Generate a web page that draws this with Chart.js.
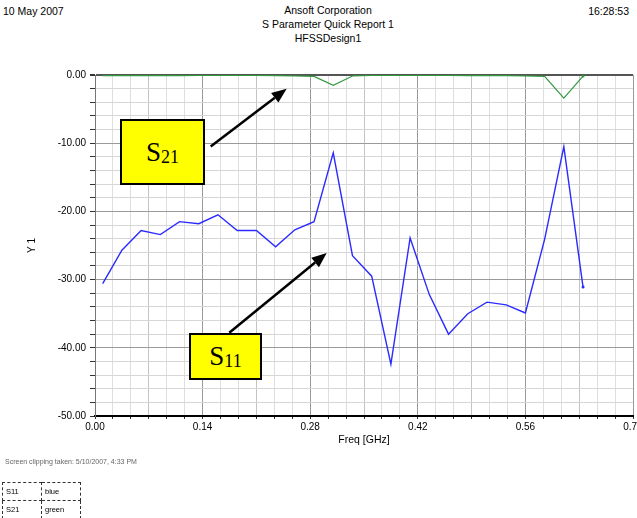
<!DOCTYPE html>
<html>
<head>
<meta charset="utf-8">
<script src="https://cdn.jsdelivr.net/npm/chart.js@4/dist/chart.umd.min.js"></script>
<style>
  html, body { margin: 0; padding: 0; background: #fff; overflow: hidden; }
  body { width: 637px; height: 518px; position: relative; font-family: "Liberation Sans", Arial, sans-serif; }
  #wrap { position: absolute; left: 0; top: 0; width: 660px; height: 518px; }
  .hdr { position: absolute; font-size: 10.5px; color: #000; white-space: nowrap; line-height: 14px; }
  .box { position: absolute; background: #ffff00; border: 2px solid #000; box-sizing: border-box;
         display: flex; align-items: center; justify-content: center;
         font-family: "Liberation Serif", "Times New Roman", serif; font-size: 27px; color: #000; }
  .box span { font-size: 18px; position: relative; top: 5px; }
  .note { position: absolute; left: 5px; top: 458px; font-size: 7px; color: #666; }
  table.legend { position: absolute; left: 2px; top: 482px; border-collapse: collapse; font-size: 7.5px; }
  table.legend td { border: 1px dashed #333; height: 17px; padding: 0 3px; }
</style>
</head>
<body>
<div class="hdr" style="left:3px; top:4px;">10 May 2007</div>
<div class="hdr" style="left:0; width:656px; top:3px; text-align:center;">Ansoft Corporation<br>S Parameter Quick Report 1<br>HFSSDesign1</div>
<div class="hdr" style="right:8px; top:4px;">16:28:53</div>

<div id="wrap"><canvas id="sChart" width="660" height="518"></canvas></div>

<div class="box" style="left:120px; top:119px; width:85px; height:66px;">S<span>21</span></div>
<div class="box" style="left:189px; top:333px; width:73px; height:47px;">S<span>11</span></div>

<div class="note">Screen clipping taken: 5/10/2007, 4:33 PM</div>
<table class="legend">
  <tr><td style="width:32px">S11</td><td style="width:32px">blue</td></tr>
  <tr><td>S21</td><td>green</td></tr>
</table>

<script>
var freqs = [0.01, 0.035, 0.06, 0.085, 0.11, 0.135, 0.16, 0.185, 0.21, 0.235, 0.26, 0.285, 0.31,
  0.335, 0.36, 0.385, 0.41, 0.435, 0.46, 0.485, 0.51, 0.535, 0.56, 0.585, 0.61, 0.635];
var s11 = [-30.6, -25.7, -22.8, -23.4, -21.5, -21.8, -20.5, -22.8, -22.8, -25.2, -22.7, -21.5, -11.4,
  -26.5, -29.5, -42.4, -23.9, -32.2, -38.0, -35.0, -33.3, -33.7, -34.9, -24.1, -10.5, -31.1];
var s21 = [-0.1, -0.1, -0.1, -0.1, -0.1, -0.05, -0.05, -0.05, -0.05, -0.1, -0.15, -0.2, -1.5,
  -0.15, -0.05, -0.05, -0.05, -0.05, -0.05, -0.1, -0.1, -0.1, -0.15, -0.2, -3.4, -0.15];
var xTickLabels = ["0.00", "0.14", "0.28", "0.42", "0.56", "0.70"];
var yTickLabels = ["-50.00", "-40.00", "-30.00", "-20.00", "-10.00", "0.00"];

function toPoints(ys) {
  return freqs.map(function (f, i) { return { x: f, y: ys[i] }; });
}
function lastDot(ctx) {
  return ctx.dataIndex === freqs.length - 1 ? 1.5 : 0;
}

// arrows from the yellow labels, anchored in data units
var arrowPlugin = {
  id: "arrows",
  afterDraw: function (chart) {
    var c = chart.ctx, xs = chart.scales.x, ys = chart.scales.y;
    [[0.1505, -10.5, 0.2494, -2.0], [0.1747, -37.8, 0.3015, -26.1]].forEach(function (a) {
      var x1 = xs.getPixelForValue(a[0]), y1 = ys.getPixelForValue(a[1]);
      var x2 = xs.getPixelForValue(a[2]), y2 = ys.getPixelForValue(a[3]);
      var ang = Math.atan2(y2 - y1, x2 - x1), L = 15, W = 6;
      var bx = x2 - L * Math.cos(ang), by = y2 - L * Math.sin(ang);
      c.save();
      c.strokeStyle = "#000";
      c.fillStyle = "#000";
      c.lineWidth = 2.5;
      c.beginPath();
      c.moveTo(x1, y1);
      c.lineTo(bx, by);
      c.stroke();
      c.beginPath();
      c.moveTo(x2, y2);
      c.lineTo(bx + W * Math.sin(ang), by - W * Math.cos(ang));
      c.lineTo(bx - W * Math.sin(ang), by + W * Math.cos(ang));
      c.closePath();
      c.fill();
      c.restore();
    });
  },
};

var tickFont = { family: "Liberation Sans", size: 10 };

new Chart(document.getElementById("sChart"), {
  type: "line",
  data: {
    datasets: [
      {
        label: "S11",
        data: toPoints(s11),
        borderColor: "#2b2bff",
        backgroundColor: "#2b2bff",
        borderWidth: 1.4,
        tension: 0,
        pointRadius: lastDot,
        pointBorderWidth: 0,
      },
      {
        label: "S21",
        data: toPoints(s21),
        borderColor: "#2f9a3f",
        backgroundColor: "#2f9a3f",
        borderWidth: 1.2,
        tension: 0,
        pointRadius: lastDot,
        pointBorderWidth: 0,
      },
    ],
  },
  options: {
    responsive: false,
    animation: false,
    layout: { padding: { left: 0, top: 75, right: 27, bottom: 68 } },
    plugins: { legend: { display: false }, tooltip: { enabled: false } },
    scales: {
      x: {
        type: "linear",
        min: 0,
        max: 0.7,
        afterBuildTicks: function (scale) {
          var t = [];
          for (var k = 0; k <= 30; k++) t.push({ value: (k * 0.14) / 6 });
          scale.ticks = t;
        },
        afterFit: function (scale) { scale.height = 34; },
        ticks: {
          autoSkip: false,
          maxRotation: 0,
          padding: 2,
          color: "#000",
          font: tickFont,
          callback: function (v, i) { return i % 6 === 0 ? xTickLabels[i / 6] : ""; },
        },
        grid: {
          color: function (ctx) {
            var i = ctx.index;
            return i % 6 === 0 ? "#9a9a9a" : i % 3 === 0 ? "#c4c4c4" : "#dedede";
          },
          tickColor: "#333",
          tickLength: 3,
        },
        border: { color: "#000", width: 2 },
        title: { display: true, text: "Freq [GHz]", color: "#000", font: { family: "Liberation Sans", size: 10.5 } },
      },
      y: {
        min: -50,
        max: 0,
        ticks: {
          stepSize: 2,
          autoSkip: false,
          padding: 4,
          color: "#000",
          font: tickFont,
          callback: function (v, i) { return i % 5 === 0 ? yTickLabels[i / 5] : ""; },
        },
        afterFit: function (scale) { scale.width = 95; },
        grid: {
          color: function (ctx) {
            var v = ctx.tick.value;
            return v === 0 ? "#555" : v % 10 === 0 ? "#9a9a9a" : "#d6d6d6";
          },
          lineWidth: function (ctx) { return ctx.tick.value === 0 ? 2 : 1; },
          tickColor: "#333",
          tickLength: 5,
        },
        border: { color: "#777", width: 1 },
        title: { display: true, text: "Y 1", color: "#000", padding: { top: 26, bottom: 0 }, font: { family: "Liberation Sans", size: 10 } },
      },
    },
  },
  plugins: [arrowPlugin],
});
</script>
</body>
</html>
